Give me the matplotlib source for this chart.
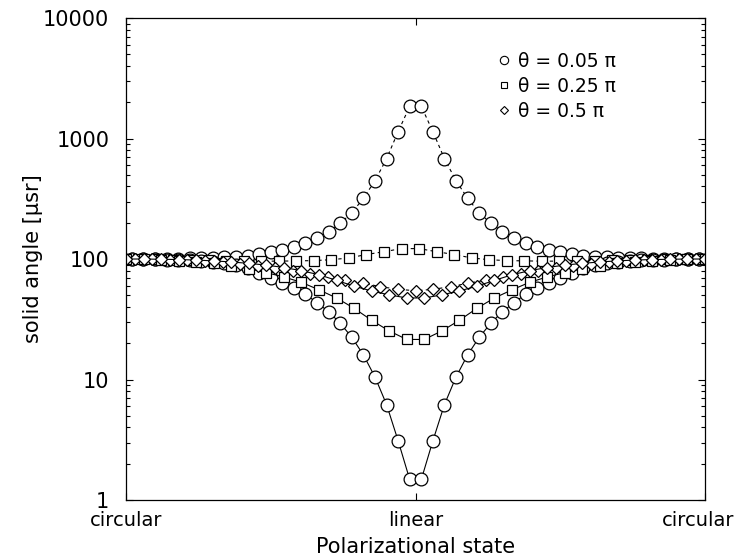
import numpy as np
import matplotlib
matplotlib.use("Agg")
import matplotlib.pyplot as plt
import matplotlib.transforms as mtransforms
from matplotlib.lines import Line2D
from matplotlib.ticker import LogLocator, FixedLocator, NullFormatter

plt.rcParams['font.family'] = ['DejaVu Sans']

# x: 0 = circular, 0.5 = linear, 1 = circular
tick_pos = [0.0, 0.5, 1.0]
tick_labels = ['circular', 'linear', 'circular']

# theta = 0.05 pi (circles)
x_circ = (np.arange(50) + 0.5) / 50
circ_upper = [100, 100, 100, 100.3, 100.5, 101, 101.5, 102, 103, 104.5,
              106.5, 109.5, 114, 119, 126, 135, 150, 169, 198, 242,
              319, 446, 680, 1140, 1850, 1850, 1140, 680, 446, 319,
              242, 198, 169, 150, 135, 126, 119, 114, 109.5, 106.5,
              104.5, 103, 102, 101.5, 101, 100.5, 100.3, 100, 100, 100]
circ_lower = [100, 100, 99.5, 99, 98.5, 97.5, 96.5, 94.5, 92, 89,
              83.7, 77, 70, 63, 57, 51, 43.4, 36.5, 29.3, 22.4,
              16.0, 10.5, 6.2, 3.1, 1.48, 1.48, 3.1, 6.2, 10.5, 16.0,
              22.4, 29.3, 36.5, 43.4, 51, 57, 63, 70, 77, 83.7,
              89, 92, 94.5, 96.5, 97.5, 98.5, 99, 99.5, 100, 100]

# theta = 0.25 pi (squares)
x_sq_up = np.arange(1, 34) / 33 - 0.009
sq_upper = [100, 99.5, 99, 98.5, 98, 97, 96.5, 96, 96, 96.5, 97, 98.7,
            102, 109, 115, 122, 122, 115, 109, 102, 98.7, 97, 96.5, 96,
            96, 96.5, 97, 98, 98.5, 99, 99.5, 100, 100]
x_sq_lo = np.arange(34) / 33
sq_lower = [100, 99.5, 98.5, 97, 95, 92, 88, 83, 77, 71, 64, 55.5,
            47.5, 39, 31, 25.3, 21.5, 21.5, 25.3, 31, 39, 47.5, 55.5,
            64, 71, 77, 83, 88, 92, 95, 97, 98.5, 99.5, 100]

# theta = 0.5 pi (diamonds)
x_di_up = (np.arange(33) + 0.5) / 33
di_upper = [100, 99.5, 98.5, 97.5, 96, 94, 91.5, 88, 84, 80, 75, 70.5,
            66.7, 63, 59, 56, 54.6, 56, 59, 63, 66.7, 70.5, 75, 80, 84,
            88, 91.5, 94, 96, 97.5, 98.5, 99.5, 100]
x_di_lo = np.arange(34) / 33
di_lower = [100, 100, 99.5, 99, 98, 96.5, 94.5, 92, 89, 85, 80, 74,
            66.5, 59.5, 54.3, 50.4, 47.5, 47.5, 50.4, 54.3, 59.5, 66.5,
            74, 80, 85, 89, 92, 94.5, 96.5, 98, 99, 99.5, 100, 100]

legend_labels = ['\u03b8 = 0.05 \u03c0', '\u03b8 = 0.25 \u03c0', '\u03b8 = 0.5 \u03c0']

fig = plt.figure(figsize=(7.36, 5.56), dpi=100)
ax = fig.add_axes([0.1712, 0.1007, 0.7867, 0.8669])

dash = dict(color='black', lw=0.8, linestyle=(0, (3, 3)), mfc='white', mec='black', mew=0.9)
solid = dict(color='black', lw=0.8, linestyle='-', mfc='white', mec='black', mew=0.9)

ax.plot(x_circ, circ_upper, marker='o', ms=9.2, **dash)
ax.plot(x_circ, circ_lower, marker='o', ms=9.2, **solid)
ax.plot(x_sq_up, sq_upper, marker='s', ms=6.8, **dash)
ax.plot(x_sq_lo, sq_lower, marker='s', ms=6.8, **solid)
ax.plot(x_di_up, di_upper, marker='D', ms=6.5, **dash)
ax.plot(x_di_lo, di_lower, marker='D', ms=6.5, **solid)

ax.set_yscale('log')
ax.set_ylim(1, 10000)
ax.set_xlim(0, 1)
ax.yaxis.set_minor_locator(LogLocator(base=10, subs=np.arange(2, 10), numticks=20))
ax.yaxis.set_minor_formatter(NullFormatter())
ax.set_yticks([1, 10, 100, 1000, 10000])
ax.set_yticklabels(['1', '10', '100', '1000', '10000'])
ax.xaxis.set_major_locator(FixedLocator(tick_pos))
ax.set_xticklabels(tick_labels)

ax.tick_params(which='both', direction='in', top=True, right=True, labelsize=15, width=0.8)
ax.tick_params(which='major', length=5)
ax.tick_params(which='minor', length=3)
ax.tick_params(axis='y', pad=12)
ax.tick_params(axis='x', pad=8, labelsize=14)
for s in ax.spines.values():
    s.set_linewidth(0.9)

# pull the right-hand label in so it stays on the canvas
last = ax.get_xticklabels()[-1]
last.set_transform(last.get_transform() + mtransforms.ScaledTranslation(-5 / 72, 0, fig.dpi_scale_trans))

ax.set_xlabel('Polarizational state', fontsize=15, labelpad=5)
ax.set_ylabel('solid angle [\u03bcsr]', fontsize=15, labelpad=0)

handles = [Line2D([], [], ls='none', marker=m, ms=s, mfc='white', mec='black', mew=0.8)
           for m, s in zip(['o', 's', 'D'], [6, 5, 4.5])]
ax.legend(handles, legend_labels, loc='upper left', bbox_to_anchor=(0.627, 0.945),
          frameon=False, fontsize=13.5, handlelength=0.8, handletextpad=0.35,
          labelspacing=0.32, borderaxespad=0)

fig.savefig('out.png', dpi=100)
